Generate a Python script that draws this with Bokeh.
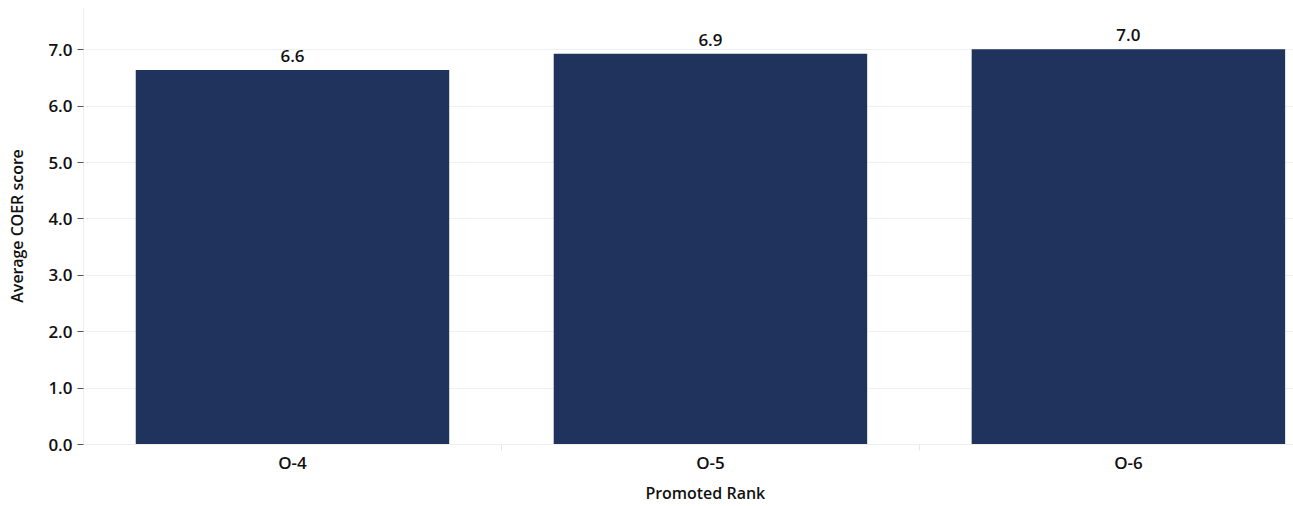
from bokeh.plotting import figure
from bokeh.models import ColumnDataSource, FixedTicker, Range1d, Title, NumeralTickFormatter
from bokeh.core.properties import value
from bokeh.embed import file_html
from bokeh.resources import INLINE

categories = ["O-4", "O-5", "O-6"]
values = [6.64, 6.93, 7.01]
y_ticks = [0, 1, 2, 3, 4, 5, 6, 7]

xpos = [i + 0.5 for i in range(len(categories))]
labels = ["%.1f" % v for v in values]
src = ColumnDataSource(dict(x=xpos, top=values, lab=labels))

FONT = "Open Sans SemiBold"
DARK = "#111111"

p = figure(width=1293, height=506, output_backend="svg", toolbar_location=None,
           x_range=Range1d(0, 2.895), y_range=Range1d(0, 7.75),
           min_border_left=83, min_border_right=0, min_border_top=7, min_border_bottom=62)
p.outline_line_color = None
p.background_fill_color = "white"

p.vbar(x="x", top="top", width=0.75, bottom=0, source=src, fill_color="#1f335c", line_color=None)
p.text(x="x", y="top", text="lab", source=src, text_align="center", text_baseline="bottom",
       y_offset=-8, text_font=value(FONT), text_font_size="17px", text_color=DARK)

# y axis
p.yaxis.ticker = FixedTicker(ticks=y_ticks)
p.yaxis.formatter = NumeralTickFormatter(format="0.0")
p.yaxis.major_label_text_font = FONT
p.yaxis.major_label_text_font_size = "17px"
p.yaxis.major_label_text_color = DARK
p.yaxis.major_tick_out = 6
p.yaxis.major_tick_in = 0
p.yaxis.major_tick_line_color = "#555555"
p.yaxis.minor_tick_line_color = None
p.yaxis.axis_line_color = "#eeeeee"
p.yaxis.axis_label = "Average COER score"
p.yaxis.axis_label_text_font = FONT
p.yaxis.axis_label_text_font_size = "16px"
p.yaxis.axis_label_text_font_style = "normal"
p.yaxis.axis_label_text_color = DARK
p.yaxis.axis_label_standoff = 17

# x axis
p.xaxis.ticker = FixedTicker(ticks=xpos, minor_ticks=[1, 2])
p.xaxis.major_label_overrides = {x: c for x, c in zip(xpos, categories)}
p.xaxis.major_label_text_font = FONT
p.xaxis.major_label_text_font_size = "17px"
p.xaxis.major_label_text_color = DARK
p.xaxis.major_tick_line_color = None
p.xaxis.minor_tick_out = 6
p.xaxis.minor_tick_in = 0
p.xaxis.minor_tick_line_color = "#e6e6e6"
p.xaxis.axis_line_color = "#eeeeee"
p.xaxis.major_label_standoff = 0

p.xgrid.grid_line_color = None
p.ygrid.grid_line_color = "#f0f0f0"

xt = Title(text="Promoted Rank", align="left", offset=562, text_font=FONT,
           text_font_size="16px", text_font_style="normal", text_color=DARK, standoff=6)
p.add_layout(xt, "below")

open("out.html", "w").write(file_html(p, INLINE))
